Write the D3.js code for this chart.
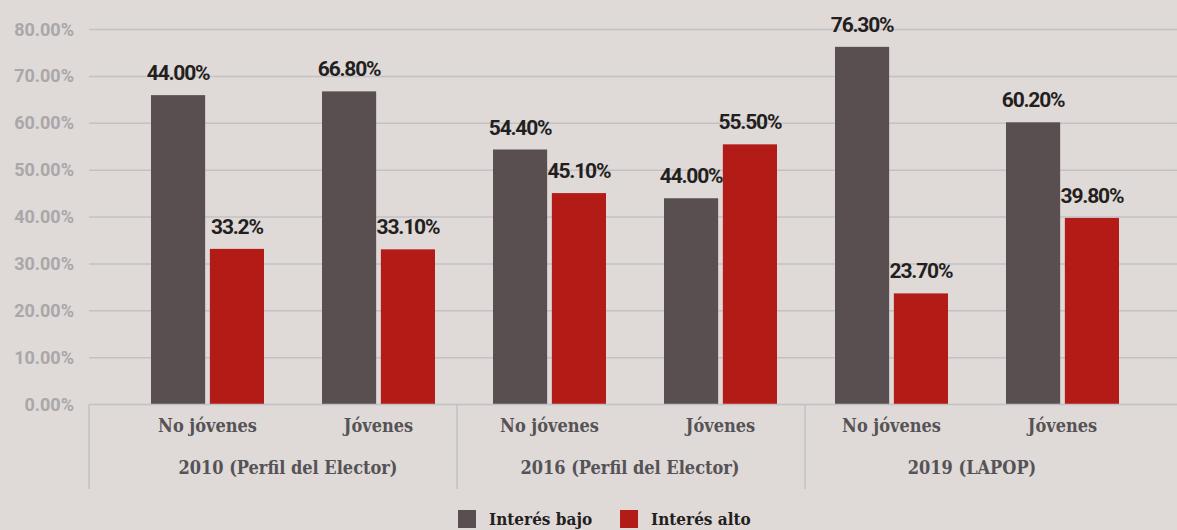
<!DOCTYPE html>
<meta charset="utf-8">
<script src="https://d3js.org/d3.v7.min.js"></script>
<style>
  body { margin: 0; background: #dfd9d8; }
  svg { display: block; }
  .grid line { stroke: #c3c1c3; stroke-width: 1.5; }
  .ytick { font-family: Roboto, sans-serif; font-weight: bold; font-size: 18px; fill: #a9a7a9; }
  .vlabel { font-family: Roboto, sans-serif; font-weight: bold; font-size: 21px; fill: #231f20; letter-spacing: -1.2px; }
  .cat { font-family: "DejaVu Serif Condensed", "DejaVu Serif", serif; font-weight: bold; font-size: 18px; fill: #555355; }
  .leg { font-family: "DejaVu Serif Condensed", "DejaVu Serif", serif; font-weight: bold; font-size: 17px; fill: #231f20; }
</style>
<body>
<div id="chart"></div>
<script>
// data
var groups = ["2010 (Perfil del Elector)", "2016 (Perfil del Elector)", "2019 (LAPOP)"];
var subCats = ["No jóvenes", "Jóvenes"];
var series = ["Interés bajo", "Interés alto"];
var bajo = [66.0, 66.8, 54.4, 44.0, 76.3, 60.2];
var alto = [33.2, 33.1, 45.1, 55.5, 23.7, 39.8];
// labels as printed on the chart
var bajoLabels = ["44.00%", "66.80%", "54.40%", "44.00%", "76.30%", "60.20%"];
var altoLabels = ["33.2%", "33.10%", "45.10%", "55.50%", "23.70%", "39.80%"];
var yTicks = [0, 10, 20, 30, 40, 50, 60, 70, 80];
var colors = ["#594f50", "#b31b17"];

var W = 1177, H = 530;
var plotLeft = 89, plotRight = 1177;

var cats = [];
groups.forEach(function (g, gi) {
  subCats.forEach(function (s, si) {
    cats.push({ id: gi * 2 + si, group: g, label: s });
  });
});

var svg = d3.select("#chart").append("svg")
  .attr("width", W).attr("height", H);

var y = d3.scaleLinear().domain([0, 80]).range([404.5, 29.5]);
var x = d3.scaleBand().domain(cats.map(function (d) { return d.id; }))
  .range([122, 1148]).paddingInner(0).paddingOuter(0);
var x1 = d3.scaleBand().domain([0, 1]).range([0, 113]).paddingInner(0.08);

// gridlines
svg.append("g").attr("class", "grid")
  .selectAll("line").data(yTicks.slice(1)).enter().append("line")
  .attr("x1", plotLeft).attr("x2", plotRight)
  .attr("y1", function (d) { return y(d); }).attr("y2", function (d) { return y(d); });

// y tick labels
svg.append("g").selectAll("text").data(yTicks).enter().append("text")
  .attr("class", "ytick")
  .attr("x", 74).attr("y", function (d) { return y(d) + 6; })
  .attr("text-anchor", "end")
  .text(function (d) { return d.toFixed(2) + "%"; });

// bars
var rows = cats.map(function (c, i) {
  return { id: c.id, vals: [bajo[i], alto[i]], labs: [bajoLabels[i], altoLabels[i]] };
});
var cg = svg.append("g").selectAll("g").data(rows).enter().append("g")
  .attr("transform", function (d) {
    return "translate(" + (x(d.id) + (x.bandwidth() - 113) / 2) + ",0)";
  });
cg.selectAll("rect").data(function (d) { return d.vals.map(function (v, k) { return { k: k, v: v }; }); })
  .enter().append("rect")
  .attr("x", function (d) { return x1(d.k); })
  .attr("width", x1.bandwidth())
  .attr("y", function (d) { return y(d.v); })
  .attr("height", function (d) { return y(0) - y(d.v); })
  .attr("fill", function (d) { return colors[d.k]; });
cg.selectAll("text").data(function (d) { return d.vals.map(function (v, k) { return { k: k, v: v, lab: d.labs[k] }; }); })
  .enter().append("text")
  .attr("class", "vlabel")
  .attr("text-anchor", "middle")
  .attr("x", function (d) { return x1(d.k) + x1.bandwidth() / 2; })
  .attr("y", function (d) { return y(d.v) - 15; })
  .text(function (d) { return d.lab; });

// category axis
var axis = svg.append("g");
axis.append("line")
  .attr("x1", plotLeft).attr("x2", plotRight)
  .attr("y1", y(0)).attr("y2", y(0))
  .attr("stroke", "#c3c1c3").attr("stroke-width", 1.5);
var seps = [plotLeft, (x(1) + x(2) + x.bandwidth()) / 2 - 7, x(4) - 1];
axis.selectAll(".sep").data(seps).enter().append("line")
  .attr("x1", function (d) { return d; }).attr("x2", function (d) { return d; })
  .attr("y1", y(0)).attr("y2", 489)
  .attr("stroke", "#c3c1c3").attr("stroke-width", 1.5);
axis.selectAll(".cat1").data(cats).enter().append("text")
  .attr("class", "cat").attr("text-anchor", "middle")
  .attr("x", function (d) { return x(d.id) + x.bandwidth() / 2; })
  .attr("y", 432)
  .text(function (d) { return d.label; });
axis.selectAll(".cat2").data(groups).enter().append("text")
  .attr("class", "cat").attr("text-anchor", "middle")
  .attr("x", function (d, i) { return (x(i * 2) + x(i * 2 + 1) + x.bandwidth()) / 2 - 5; })
  .attr("y", 474)
  .text(function (d) { return d; });

// legend
var legX = [458, 620];
var leg = svg.append("g").selectAll("g").data(series).enter().append("g")
  .attr("transform", function (d, i) { return "translate(" + legX[i] + ",510)"; });
leg.append("rect").attr("width", 18).attr("height", 18)
  .attr("fill", function (d, i) { return colors[i]; });
leg.append("text").attr("class", "leg").attr("x", 31).attr("y", 15)
  .text(function (d) { return d; });
</script>
</body>
